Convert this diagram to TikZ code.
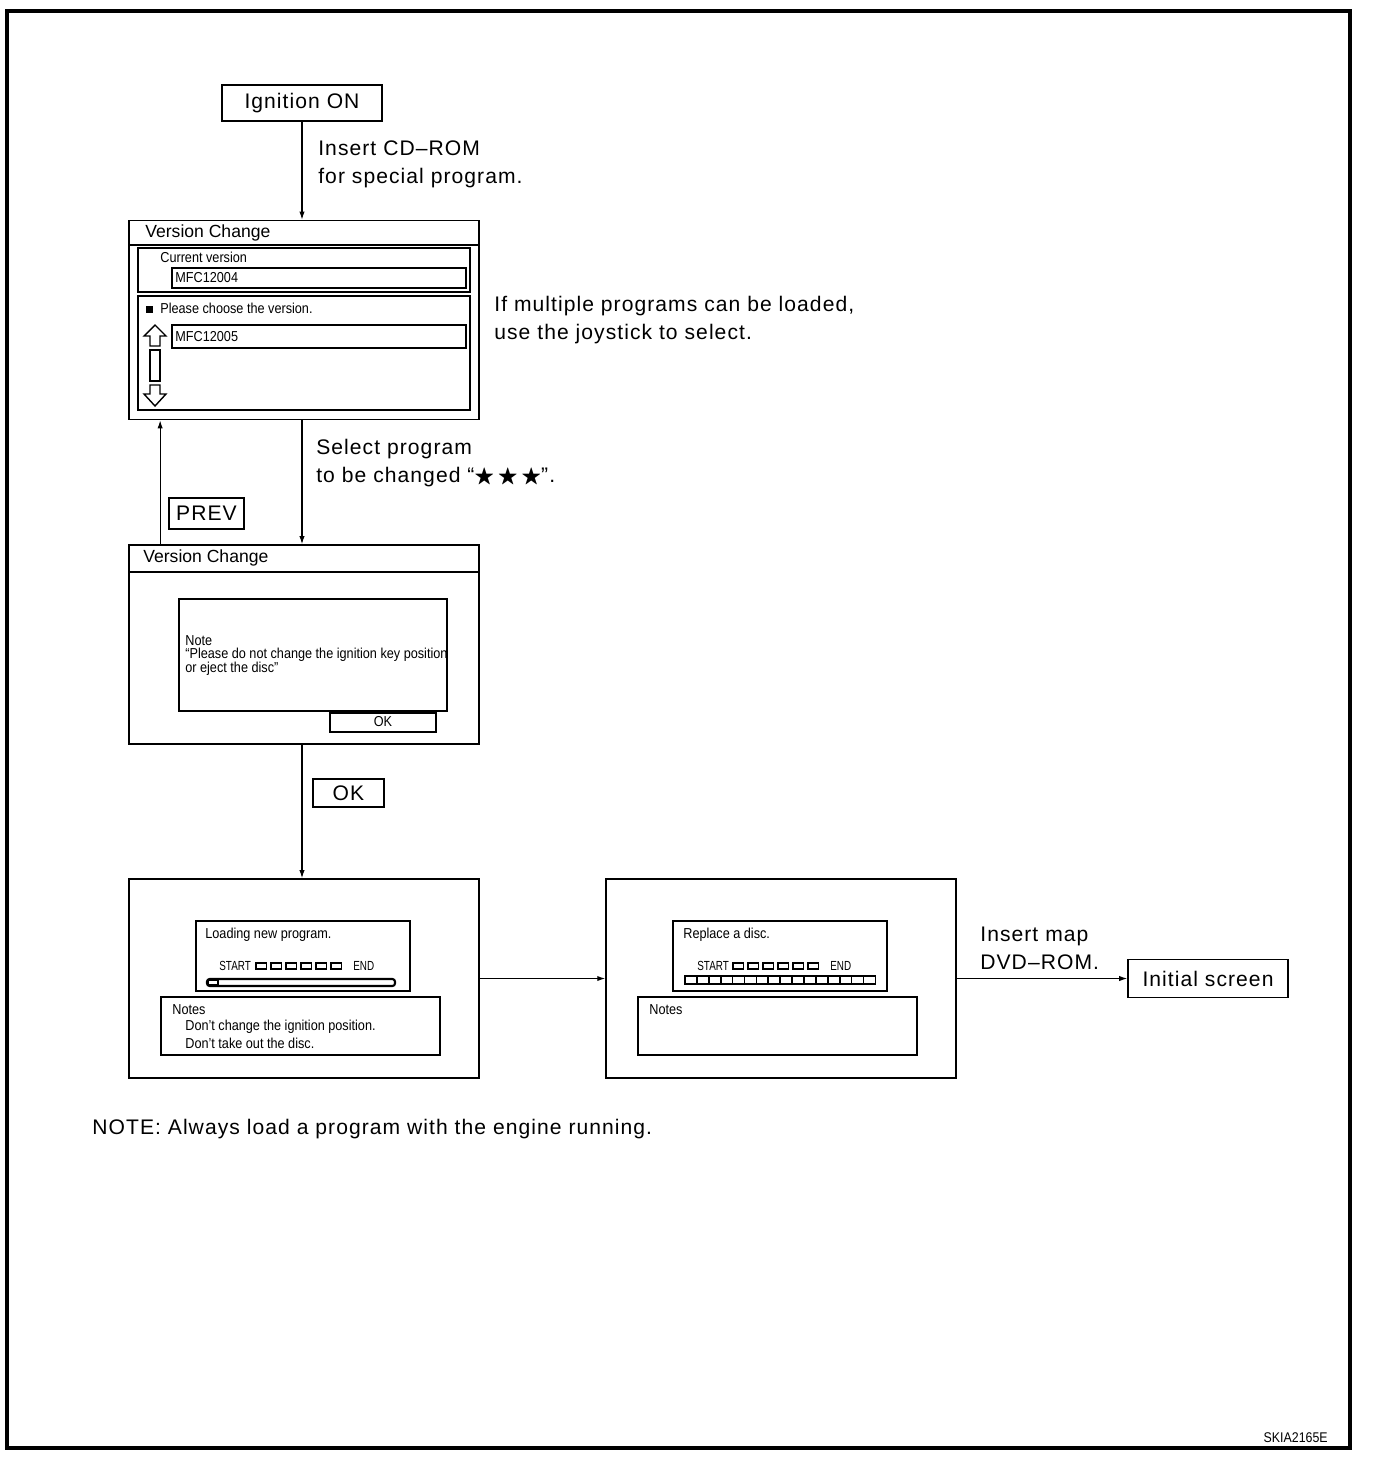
\documentclass[tikz,border=0pt]{standalone}
\usepackage{amsmath,amssymb}
\usepackage{graphicx}
\usepackage{fontspec}
\setmainfont{Liberation Sans}
\newfontfamily\lblfamily{Liberation Sans}[LetterSpace=5]
\newcommand{\lblfont}{\lblfamily\fontsize{12}{15.5}\selectfont}
\newcommand{\scrfont}{\fontsize{8.2}{10}\selectfont}
\newcommand{\cond}[1]{\scalebox{0.88}[1]{#1}}
\usetikzlibrary{positioning, arrows.meta}

\begin{document}
\begin{tikzpicture}[
    x=0.02cm, y=-0.02cm,
    scr/.style={draw, line width=1pt, minimum width=7cm, minimum height=3.98cm, inner sep=0pt},
    btn/.style={draw, line width=1pt, font=\lblfont, inner sep=0pt},
    arr/.style={-{Latex[length=4.5pt,width=3pt]}, line width=0.6pt},
    lbl/.style={anchor=base west, inner sep=0pt, align=left, font=\lblfont},
    scrtxt/.style={anchor=west, inner sep=0pt, font=\scrfont},
    inbox/.style={line width=1.5pt},
    thin/.style={line width=0.8pt}
    ]
\useasboundingbox (0,0) rectangle (1376,1464);
\draw[line width=2.3pt] (7,11) rectangle (1350,1448);

% boxes of the flow
\node[btn, minimum width=3.2cm, minimum height=0.72cm] (ign) at (302,103) {Ignition ON};
\node[scr] (scrA) at (304,320) {};
\node[scr] (scrB) at (304,644.5) {};
\node[scr] (scrC) at (304,978.5) {};
\node[scr] (scrD) at (781,978.5) {};
\node[btn, minimum width=3.2cm, minimum height=0.76cm] (init) at (1208,978.5) {Initial screen};
\node[btn, minimum width=1.5cm, minimum height=0.62cm] (prev) at (206.5,513.5) {PREV};
\node[btn, minimum width=1.42cm, minimum height=0.56cm] (ok) at (348.5,793) {OK};

% connectors
\draw[arr] (ign.south) -- (ign.south |- scrA.north);
\draw[arr] (ign.south |- scrA.south) -- (ign.south |- scrB.north);
\draw[arr] ([xshift=0.64cm]scrB.north west) -- ([xshift=0.64cm]scrA.south west);
\draw[arr] (ign.south |- scrB.south) -- (ign.south |- scrC.north);
\draw[arr] (scrC.east) -- (scrD.west);
\draw[arr] (scrD.east) -- (init.west);

% labels
\node[lbl] (insCD) at (318,183) {Insert CD–ROM\\for special program.};
\node[lbl] (multi) at (494,339) {If multiple programs can be loaded,\\use the joystick to select.};
\node[lbl] (selprog) at (316,482) {Select program\\to be changed “$\bigstar\,\bigstar\,\bigstar$”.};
\node[lbl] (insmap) at (980,969) {Insert map\\DVD–ROM.};
\node[lbl] (note) at (92,1134) {NOTE: Always load a program with the engine running.};
\node[anchor=east, inner sep=0pt, font=\fontsize{8}{9}\selectfont] (code) at (1328,1438) {\cond{SKIA2165E}};

% screen A
\draw[thin] (129,245) -- (479,245);
\node[anchor=west, inner sep=0pt, font=\fontsize{10}{12}\selectfont] (ttlA) at (145,233) {Version Change};
\draw[inbox] (138,248) rectangle (470,292);
\node[scrtxt] (cur) at (160,257) {\cond{Current version}};
\draw[thin] (172,268) rectangle (466,288);
\node[scrtxt] (verA) at (175,278) {\cond{MFC12004}};
\draw[inbox] (138,296) rectangle (470,410);
\draw[fill=black] (146,306) rectangle (152,312);
\node[scrtxt] (choose) at (160,308) {\cond{Please choose the version.}};
\draw[thin] (172,325) rectangle (466,348);
\node[scrtxt] (verB) at (175,337) {\cond{MFC12005}};
\draw[thin] (155,325) -- (166,336) -- (160,336) -- (160,346) -- (150,346) -- (150,336) -- (144,336) -- cycle;
\draw[thin] (150,350) rectangle (160,381);
\draw[thin] (150,385) -- (160,385) -- (160,394) -- (166,394) -- (155,406) -- (144,394) -- (150,394) -- cycle;

% screen B
\draw[thin] (129,572) -- (479,572);
\node[anchor=west, inner sep=0pt, font=\fontsize{10}{12}\selectfont] (ttlB) at (143,558) {Version Change};
\draw[inbox] (179,599) rectangle (447,711);
\node[scrtxt] (nt1) at (185,641) {\cond{Note}};
\node[scrtxt] (nt2) at (185,655) {\cond{“Please do not change the ignition key position}};
\node[scrtxt] (nt3) at (185,669) {\cond{or eject the disc”}};
\draw[thin] (330,713) rectangle (436,732);
\node[inner sep=0pt, font=\scrfont] (okB) at (383,722) {\cond{OK}};

% screen C
\draw[inbox] (196,921) rectangle (410,991);
\node[scrtxt] (load) at (205,935) {\cond{Loading new program.}};
\node[scrtxt, font=\fontsize{7.5}{8}\selectfont] (stC) at (219,966) {\scalebox{0.75}[1]{START}};
\foreach \i in {0,...,5}
  \draw[line width=1pt] (256+\i*15,963) rectangle ++(10.5,6);
\node[scrtxt, font=\fontsize{7.5}{8}\selectfont] (enC) at (353,966) {\scalebox{0.75}[1]{END}};
\draw[line width=1.2pt, rounded corners=1.5pt] (207,979) rectangle (395,986);
\draw[thin] (208,980) rectangle (218,985);
\draw[inbox] (161,997) rectangle (440,1055);
\node[scrtxt] (nsC) at (172,1010) {\cond{Notes}};
\node[scrtxt] (dn1) at (185,1027) {\cond{Don’t change the ignition position.}};
\node[scrtxt] (dn2) at (185,1043) {\cond{Don’t take out the disc.}};

% screen D
\draw[inbox] (673,921) rectangle (887,991);
\node[scrtxt] (repl) at (683,935) {\cond{Replace a disc.}};
\node[scrtxt, font=\fontsize{7.5}{8}\selectfont] (stD) at (697,966) {\scalebox{0.75}[1]{START}};
\foreach \i in {0,...,5}
  \draw[line width=1pt] (733+\i*15,963) rectangle ++(10.5,6);
\node[scrtxt, font=\fontsize{7.5}{8}\selectfont] (enD) at (830,966) {\scalebox{0.75}[1]{END}};
\foreach \i in {0,...,15}
  \draw[line width=1pt] (685+\i*11.9,976) rectangle ++(11.9,8);
\draw[inbox] (638,997) rectangle (917,1055);
\node[scrtxt] (nsD) at (649,1010) {\cond{Notes}};
\end{tikzpicture}
\end{document}
